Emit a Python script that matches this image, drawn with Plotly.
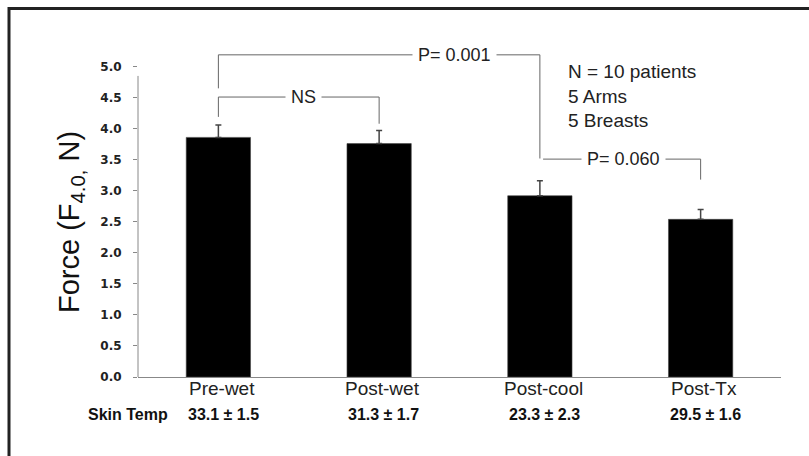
import plotly.graph_objects as go

# ---- data ----
categories = ["Pre-wet", "Post-wet", "Post-cool", "Post-Tx"]
force_mean = [3.86, 3.76, 2.92, 2.54]
force_err = [0.20, 0.21, 0.24, 0.16]
skin_temp = ["33.1 ± 1.5", "31.3 ± 1.7", "23.3 ± 2.3", "29.5 ± 1.6"]
ytick_vals = [0.0, 0.5, 1.0, 1.5, 2.0, 2.5, 3.0, 3.5, 4.0, 4.5, 5.0]
ytick_text = [f"<b>{v:.1f}</b>" for v in ytick_vals]
# brackets: (x_left, x_right, y_line, y_left_end, y_right_end, label, label_x)
brackets = [
    (0, 1, 4.51, 4.19, 4.08, "NS", 0.53),
    (0, 2, 5.19, 4.65, 3.52, "P= 0.001", 1.47),
    (2.02, 3, 3.51, 3.51, 3.18, "P= 0.060", 2.52),
]
note_lines = ["N = 10 patients", "5 Arms", "5 Breasts"]

# ---- layout geometry (pixels) ----
W, H = 809, 456
ML, MR, MT, MB = 138, 28, 48, 79
PW, PH = W - ML - MR, H - MT - MB


def px_x(p):
    return (p - ML) / PW


def px_y(p):
    return (H - MB - p) / PH


FONT = "Liberation Sans, Arial, sans-serif"

fig = go.Figure()
fig.add_trace(go.Bar(
    x=list(range(len(categories))),
    y=force_mean,
    width=0.4,
    marker=dict(color="#000000", line=dict(color="#444444", width=0.6)),
    error_y=dict(type="data", array=force_err, arrayminus=[0] * len(force_err),
                 symmetric=False, color="#444444", thickness=1.5, width=3),
    showlegend=False,
    hoverinfo="skip",
))

shapes = []
annotations = []

# brackets
for x0, x1, yl, y0e, y1e, label, lx in brackets:
    line = dict(color="#666666", width=1)
    shapes.append(dict(type="line", xref="x", yref="y", x0=x0, x1=x1, y0=yl, y1=yl, line=line))
    shapes.append(dict(type="line", xref="x", yref="y", x0=x0, x1=x0, y0=yl, y1=y0e, line=line))
    shapes.append(dict(type="line", xref="x", yref="y", x0=x1, x1=x1, y0=yl, y1=y1e, line=line))
    annotations.append(dict(x=lx, y=yl, xref="x", yref="y", text=label, showarrow=False,
                            font=dict(family=FONT, size=18, color="#222222"),
                            bgcolor="#ffffff", borderpad=5, xanchor="center", yanchor="middle"))

# y axis line (short, as in original)
shapes.append(dict(type="line", xref="paper", yref="y", x0=0, x1=0, y0=0, y1=4.85,
                   line=dict(color="#888888", width=1)))

# outer frame
shapes.append(dict(type="rect", xref="paper", yref="paper",
                   x0=px_x(9), x1=px_x(W + 10), y0=px_y(8.5), y1=px_y(H + 10),
                   line=dict(color="#222222", width=3), fillcolor="rgba(0,0,0,0)", layer="above"))

# note text
annotations.append(dict(x=px_x(566), y=px_y(59), xref="paper", yref="paper",
                        text="<br>".join(note_lines), showarrow=False, align="left",
                        xanchor="left", yanchor="top",
                        font=dict(family=FONT, size=19, color="#222222")))

# category labels
for i, c in enumerate(categories):
    annotations.append(dict(x=i + 0.02, y=px_y(389), xref="x", yref="paper",
                            text=c, showarrow=False, xanchor="center", yanchor="middle",
                            font=dict(family=FONT, size=19, color="#222222")))

# skin temperature row
annotations.append(dict(x=px_x(128), y=px_y(414), xref="paper", yref="paper",
                        text="<b>Skin Temp</b>", showarrow=False, xanchor="center", yanchor="middle",
                        font=dict(family=FONT, size=16, color="#111111")))
for i, t in enumerate(skin_temp):
    annotations.append(dict(x=i + 0.03, y=px_y(414), xref="x", yref="paper",
                            text=f"<b>{t}</b>", showarrow=False, xanchor="center", yanchor="middle",
                            font=dict(family=FONT, size=16, color="#111111")))

# y axis title
annotations.append(dict(x=px_x(71), y=px_y(222), xref="paper", yref="paper",
                        text="Force (F<sub>4.0,</sub> N)", textangle=-90, showarrow=False,
                        xanchor="center", yanchor="middle",
                        font=dict(family=FONT, size=29, color="#111111")))

fig.update_layout(
    width=W, height=H,
    margin=dict(l=ML, r=MR, t=MT, b=MB),
    paper_bgcolor="#ffffff", plot_bgcolor="#ffffff",
    shapes=shapes, annotations=annotations,
    xaxis=dict(range=[-0.5, 3.5], tickvals=list(range(len(categories))), showticklabels=False,
               showline=True, linecolor="#888888", linewidth=1, ticks="", showgrid=False,
               zeroline=False, fixedrange=True),
    yaxis=dict(range=[0, 5.3], tickvals=ytick_vals, ticktext=ytick_text, showline=False,
               ticks="outside", ticklen=4, tickcolor="#888888", tickwidth=1,
               showgrid=False, zeroline=False, ticklabelstandoff=9,
               tickfont=dict(family="DejaVu Sans, Verdana, sans-serif", size=12, color="#222222"),
               fixedrange=True),
    bargap=0.6,
)

fig.write_html("out.html", config={"displayModeBar": False},
               post_script="document.body.style.margin='0';document.body.style.overflow='hidden';")
